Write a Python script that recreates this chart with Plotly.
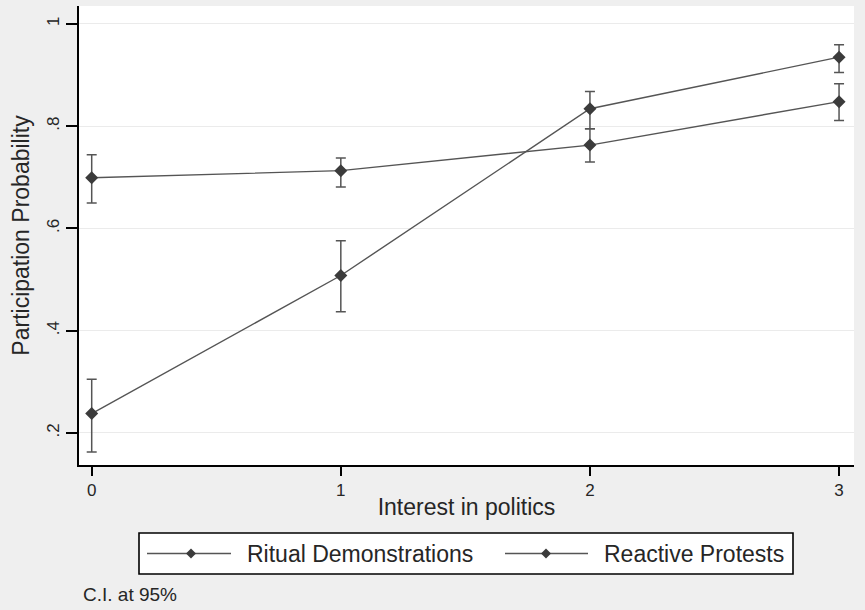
import plotly.graph_objects as go

# Predicted participation probabilities by interest in politics (95% CI)
interest = [0, 1, 2, 3]
series_names = ["Ritual Demonstrations", "Reactive Protests"]

ritual_prob = [0.238, 0.508, 0.834, 0.935]
ritual_lo = [0.163, 0.437, 0.795, 0.905]
ritual_hi = [0.305, 0.576, 0.868, 0.959]

reactive_prob = [0.699, 0.713, 0.763, 0.848]
reactive_lo = [0.650, 0.681, 0.730, 0.811]
reactive_hi = [0.744, 0.738, 0.795, 0.883]

y_tickvals = [0.2, 0.4, 0.6, 0.8, 1.0]
y_ticktext = [".2", ".4", ".6", ".8", "1"]
x_tickvals = [0, 1, 2, 3]

FONT = "Liberation Sans, Arial, sans-serif"
LINE_C = "#555555"
MARK_C = "#3b3b3b"
TEXT_C = "#262626"

W, H = 865, 610
ML, MR, MT, MB = 79, 11, 6, 145
PW, PH = W - ML - MR, H - MT - MB


def px(x):
    return (x - ML) / PW


def py(y):
    return (H - MB - y) / PH


fig = go.Figure()
series = [
    (series_names[0], ritual_prob, ritual_lo, ritual_hi),
    (series_names[1], reactive_prob, reactive_lo, reactive_hi),
]
for name, p, lo, hi in series:
    fig.add_trace(go.Scatter(
        x=interest, y=p, name=name, mode="lines+markers",
        line=dict(color=LINE_C, width=1.4),
        marker=dict(symbol="diamond", size=10, color=MARK_C),
        error_y=dict(
            type="data", symmetric=False,
            array=[h - v for h, v in zip(hi, p)],
            arrayminus=[v - l for v, l in zip(p, lo)],
            color=LINE_C, thickness=1.5, width=5,
        ),
        showlegend=False,
    ))

fig.update_layout(
    width=W, height=H,
    margin=dict(l=ML, r=MR, t=MT, b=MB),
    paper_bgcolor="#efefef", plot_bgcolor="#ffffff",
    font=dict(family=FONT, color=TEXT_C),
    xaxis=dict(
        range=[-0.051, 3.06], tickvals=x_tickvals,
        showgrid=False, zeroline=False,
        showline=True, linecolor="#000000", linewidth=1.6,
        ticks="outside", ticklen=9, tickwidth=1.6, tickcolor="#000000",
        tickfont=dict(size=17),
        title=dict(text="Interest in politics", font=dict(size=23), standoff=0),
    ),
    yaxis=dict(
        range=[0.1374, 1.035], tickvals=y_tickvals, ticktext=y_ticktext,
        tickangle=-90,
        showgrid=True, gridcolor="#ebebeb", gridwidth=1, zeroline=False,
        showline=True, linecolor="#000000", linewidth=1.6,
        ticks="outside", ticklen=11, tickwidth=1.6, tickcolor="#000000",
        tickfont=dict(size=17),
        title=dict(text="Participation Probability", font=dict(size=23), standoff=8),
    ),
)

# Legend box drawn below the plot
shapes = [dict(type="rect", xref="paper", yref="paper",
               x0=px(139), x1=px(793), y0=py(574), y1=py(533),
               line=dict(color="#000000", width=1.6), fillcolor="#ffffff")]
annotations = []
legend_items = [(147, 231, 191, 245, series_names[0]),
                (505, 588, 546, 602, series_names[1])]
ly = 553.5
for x0, x1, mx, tx, label in legend_items:
    shapes.append(dict(type="line", xref="paper", yref="paper",
                       x0=px(x0), x1=px(x1), y0=py(ly), y1=py(ly),
                       line=dict(color=LINE_C, width=1.4)))
    d = 5
    path = (f"M {px(mx - d)} {py(ly)} L {px(mx)} {py(ly - d)} "
            f"L {px(mx + d)} {py(ly)} L {px(mx)} {py(ly + d)} Z")
    shapes.append(dict(type="path", xref="paper", yref="paper", path=path,
                       fillcolor=MARK_C, line=dict(color=MARK_C, width=0)))
    annotations.append(dict(text=label, xref="paper", yref="paper",
                            x=px(tx), y=py(ly), xanchor="left", yanchor="middle",
                            showarrow=False, font=dict(size=23, color=TEXT_C)))

annotations.append(dict(text="C.I. at 95%", xref="paper", yref="paper",
                        x=px(81), y=py(594), xanchor="left", yanchor="middle",
                        showarrow=False, font=dict(size=19, color=TEXT_C)))

fig.update_layout(shapes=shapes, annotations=annotations)
fig.write_html("out.html")
